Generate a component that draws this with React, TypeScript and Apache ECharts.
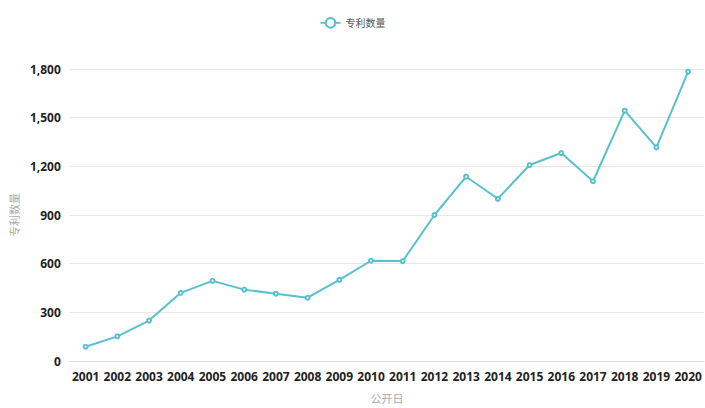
import React, { useEffect, useRef } from "react";
import * as echarts from "echarts";

const years = ["2001","2002","2003","2004","2005","2006","2007","2008","2009","2010","2011","2012","2013","2014","2015","2016","2017","2018","2019","2020"];
const patents = [88, 152, 249, 420, 494, 440, 415, 390, 500, 618, 616, 900, 1136, 1000, 1208, 1282, 1108, 1543, 1317, 1784];
const seriesName = "专利数量";
const xName = "公开日";
const yName = "专利数量";

export default function App() {
  const ref = useRef<HTMLDivElement>(null);
  useEffect(() => {
    if (!ref.current) return;
    const chart = echarts.init(ref.current, null, { renderer: "svg" });
    const color = "#57C1CE";
    chart.setOption({
      animation: false,
      legend: {
        top: 12,
        left: "center",
        itemWidth: 20,
        itemHeight: 12,
        itemGap: 8,
        textStyle: { fontSize: 10, color: "#555", fontFamily: "Noto Sans CJK SC" },
        data: [seriesName],
      },
      grid: { left: 62, right: 1, top: 69, bottom: 41, containLabel: false },
      xAxis: {
        type: "category",
        data: years,
        boundaryGap: true,
        name: xName,
        nameLocation: "middle",
        nameGap: 31,
        nameTextStyle: { color: "#aaa", fontSize: 11, fontFamily: "Noto Sans CJK SC" },
        axisLine: { lineStyle: { color: "#ddd" } },
        axisTick: { show: false },
        axisLabel: { color: "#222", fontWeight: "bold", fontSize: 12, margin: 9, interval: 0, fontFamily: "Open Sans" },
      },
      yAxis: {
        type: "value",
        min: 0,
        max: 1800,
        interval: 300,
        name: yName,
        nameLocation: "middle",
        nameGap: 47,
        nameTextStyle: { color: "#aaa", fontSize: 11, fontFamily: "Noto Sans CJK SC" },
        axisLine: { show: false },
        axisTick: { show: false },
        splitLine: { lineStyle: { color: "#e8e8e8" } },
        axisLabel: {
          color: "#222",
          fontWeight: "bold",
          fontSize: 12,
          margin: 9,
          fontFamily: "Open Sans",
          formatter: (v: number) => v.toLocaleString("en-US"),
        },
      },
      series: [
        {
          name: seriesName,
          type: "line",
          data: patents,
          symbol: "emptyCircle",
          symbolSize: 4,
          itemStyle: { color },
          lineStyle: { color, width: 2 },
        },
      ],
    });
    return () => chart.dispose();
  }, []);
  return (
    <div
      ref={ref}
      style={{ position: "absolute", left: 0, top: 0, width: 705, height: 408 }}
    />
  );
}
